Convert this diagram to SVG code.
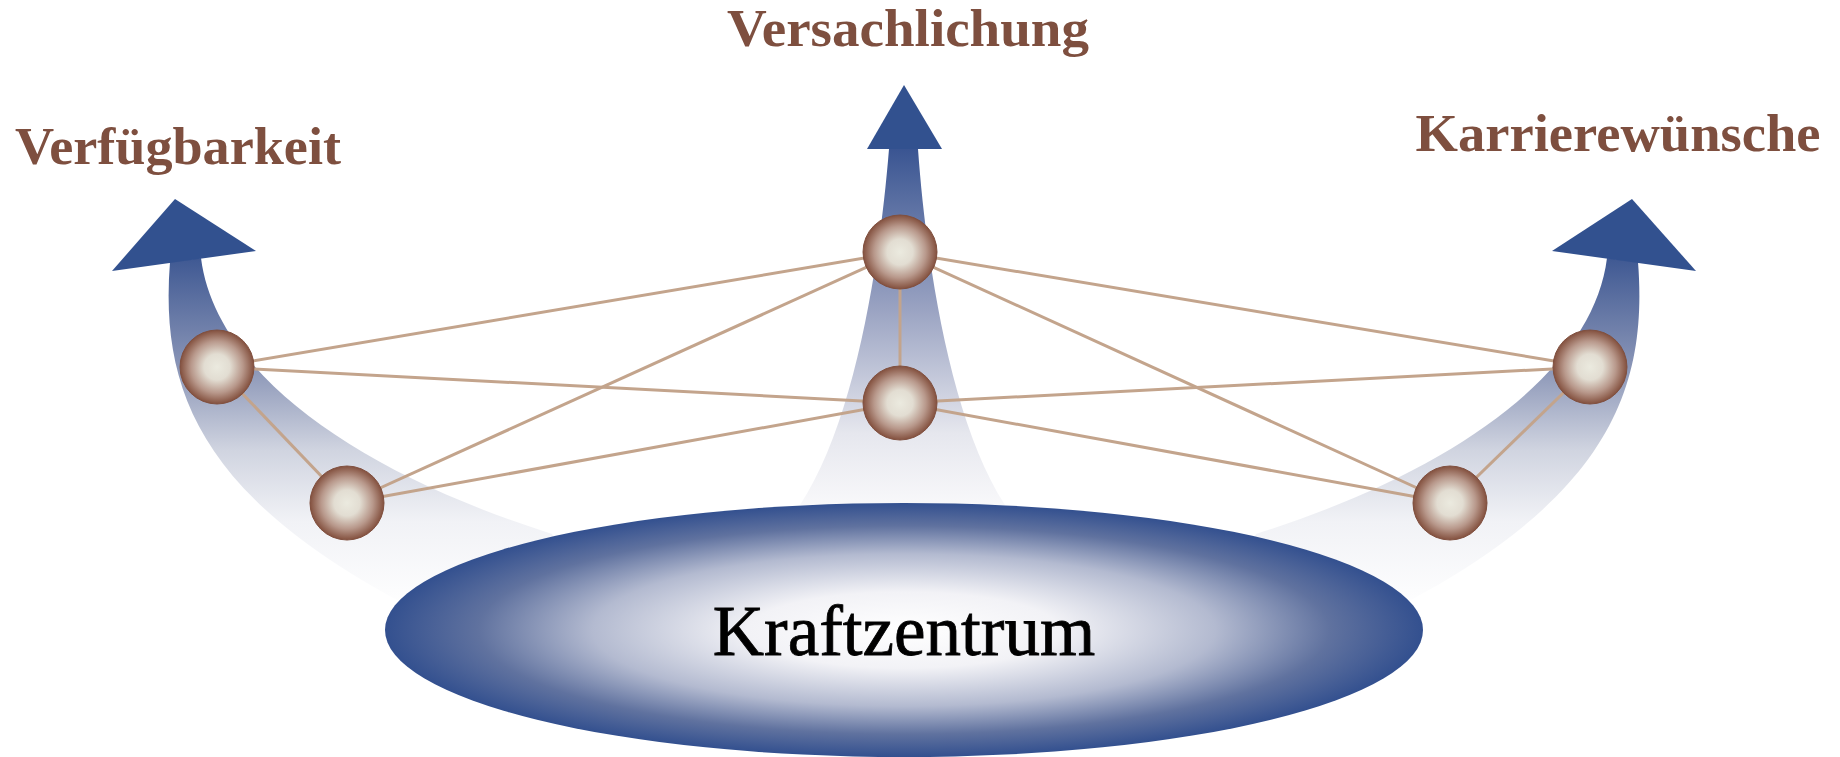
<svg xmlns="http://www.w3.org/2000/svg" width="1840" height="757" viewBox="0 0 1840 757">
<defs>
<linearGradient id="gMid" gradientUnits="userSpaceOnUse" x1="0" y1="149" x2="0" y2="505">
<stop offset="0" stop-color="#3a5592"/>
<stop offset="0.45" stop-color="#9aa3c2"/>
<stop offset="0.8" stop-color="#e6e7ee"/>
<stop offset="1" stop-color="#f8f8fa"/>
</linearGradient>
<linearGradient id="gSide" gradientUnits="userSpaceOnUse" x1="0" y1="255" x2="0" y2="610">
<stop offset="0" stop-color="#3d5792"/>
<stop offset="0.32" stop-color="#8b96b7"/>
<stop offset="0.55" stop-color="#d0d4e0"/>
<stop offset="0.75" stop-color="#f1f2f6"/>
<stop offset="1" stop-color="#ffffff"/>
</linearGradient>
<radialGradient id="gEll" cx="0.5" cy="0.5" r="0.5">
<stop offset="0" stop-color="#ffffff"/>
<stop offset="0.3" stop-color="#f2f2f6"/>
<stop offset="0.6" stop-color="#b3bad0"/>
<stop offset="0.82" stop-color="#60729f"/>
<stop offset="1" stop-color="#33508f"/>
</radialGradient>
<radialGradient id="gBall" cx="0.5" cy="0.5" r="0.5">
<stop offset="0" stop-color="#ebeadf"/>
<stop offset="0.35" stop-color="#e2ddd2"/>
<stop offset="0.7" stop-color="#b8988b"/>
<stop offset="1" stop-color="#83503e"/>
</radialGradient>
<style>
.lbl{font-family:"Liberation Serif","Times New Roman",serif;font-weight:bold;font-size:52px;fill:#7e4f3f;text-anchor:middle}
.head{fill:#32518f}
.con{stroke:#c3a48c;stroke-width:3;fill:none}
.ball{fill:url(#gBall);stroke:#80503f;stroke-width:1}
</style>
</defs>
<g id="shafts">
<path id="shaft-left" d="M170 262 C160 390 200 500 420 612 L565 565 L552 534 C350 470 215 370 201 258 Z" fill="url(#gSide)"/>
<path id="shaft-right" d="M1638 262 C1648 390 1608 500 1388 612 L1243 565 L1256 534 C1458 470 1593 370 1607 258 Z" fill="url(#gSide)"/>
<path id="shaft-mid" d="M889 149 L918 149 C926 260 950 420 1005 505 L800 505 C856 420 880 260 889 149 Z" fill="url(#gMid)"/>
</g>
<g id="arrowheads">
<polygon class="head" points="175,199 112,271 256,251"/>
<polygon class="head" points="904,85 867,149 942,149"/>
<polygon class="head" points="1632,199 1552,251 1696,271"/>
</g>
<g id="kraftzentrum">
<ellipse cx="904" cy="630" rx="519" ry="127" fill="url(#gEll)"/>
<text x="904" y="655" font-family="'Liberation Serif','Times New Roman',serif" font-size="71" fill="#000" stroke="#000" stroke-width="0.8" text-anchor="middle">Kraftzentrum</text>
</g>
<g id="labels">
<text class="lbl" x="908" y="46" textLength="362" lengthAdjust="spacingAndGlyphs">Versachlichung</text>
<text class="lbl" x="178" y="164" textLength="326" lengthAdjust="spacingAndGlyphs">Verfügbarkeit</text>
<text class="lbl" x="1618" y="151" textLength="405" lengthAdjust="spacingAndGlyphs">Karrierewünsche</text>
</g>
<g id="connectors">
<line class="con" x1="217" y1="367" x2="900" y2="252"/>
<line class="con" x1="217" y1="367" x2="900" y2="403"/>
<line class="con" x1="217" y1="367" x2="347" y2="503"/>
<line class="con" x1="347" y1="503" x2="900" y2="252"/>
<line class="con" x1="347" y1="503" x2="900" y2="403"/>
<line class="con" x1="900" y1="252" x2="900" y2="403"/>
<line class="con" x1="900" y1="252" x2="1590" y2="367"/>
<line class="con" x1="900" y1="252" x2="1450" y2="503"/>
<line class="con" x1="900" y1="403" x2="1590" y2="367"/>
<line class="con" x1="900" y1="403" x2="1450" y2="503"/>
<line class="con" x1="1590" y1="367" x2="1450" y2="503"/>
</g>
<g id="node-lu"><circle class="ball" cx="217" cy="367" r="37"/></g>
<g id="node-ll"><circle class="ball" cx="347" cy="503" r="37"/></g>
<g id="node-mu"><circle class="ball" cx="900" cy="252" r="37"/></g>
<g id="node-ml"><circle class="ball" cx="900" cy="403" r="37"/></g>
<g id="node-ru"><circle class="ball" cx="1590" cy="367" r="37"/></g>
<g id="node-rl"><circle class="ball" cx="1450" cy="503" r="37"/></g>
</svg>
